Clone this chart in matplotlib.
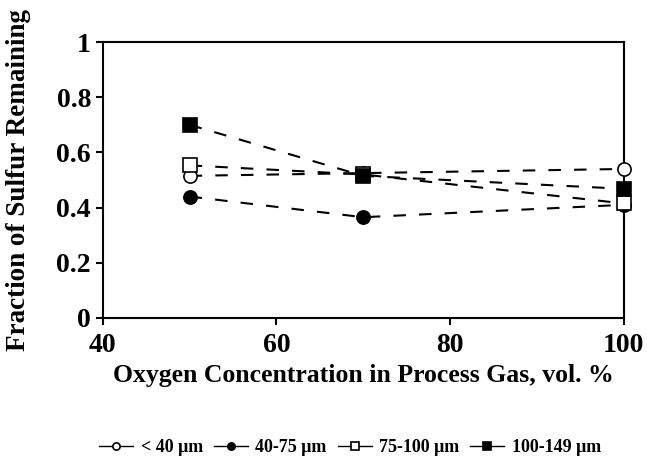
import numpy as np
import matplotlib.pyplot as plt

plt.rcParams['font.family'] = ['Liberation Serif', 'DejaVu Serif']
plt.rcParams['font.weight'] = 'bold'
plt.rcParams['axes.labelweight'] = 'bold'

oxygen = [50, 70, 100]
s_lt40 = [0.515, 0.525, 0.54]
s_40_75 = [0.44, 0.365, 0.41]
s_75_100 = [0.553, 0.52, 0.415]
s_100_149 = [0.70, 0.515, 0.468]

labels = ['< 40 μm', '40-75 μm', '75-100 μm', '100-149 μm']
markers = ['o', 'o', 's', 's']
faces = ['white', 'black', 'white', 'black']

fig = plt.figure(figsize=(6.47, 4.58), dpi=100)
ax = fig.add_axes([0.159, 0.306, 0.805, 0.602])

for ys, lab, m, fc in zip([s_lt40, s_40_75, s_75_100, s_100_149], labels, markers, faces):
    ax.plot(oxygen, ys, color='black', ls=(0, (6, 6.3)), lw=1.5, marker=m,
            ms=9.5, mfc=fc, mec='black', mew=1.2, label=lab, clip_on=False, zorder=3)

ax.set_xlim(40, 100)
ax.set_ylim(0, 1)
ax.set_xticks([40, 60, 80, 100])
ax.set_yticks([0, 0.2, 0.4, 0.6, 0.8, 1])
ax.set_yticklabels(['0', '0.2', '0.4', '0.6', '0.8', '1'])
ax.tick_params(labelsize=20, width=1.5, length=5, direction='out')
ax.tick_params(axis='x', pad=6)
for s in ax.spines.values():
    s.set_linewidth(1.5)

ax.set_xlabel('Oxygen Concentration in Process Gas, vol. %', fontsize=18.5, labelpad=4)
ax.set_ylabel('Fraction of Sulfur Remaining', fontsize=19.5)
ax.yaxis.set_label_coords(-0.138, 0.5)

h, l = ax.get_legend_handles_labels()
leg = fig.legend(h, l, loc='center', bbox_to_anchor=(0.541, 0.022), ncol=4, frameon=False,
                 fontsize=13, markerscale=0.55, handlelength=1.9, handletextpad=0.4,
                 columnspacing=0.6)
for lh in leg.get_lines():
    lh.set_linestyle('-')
    lh.set_linewidth(1)

fig.savefig('out.png', dpi=100)
